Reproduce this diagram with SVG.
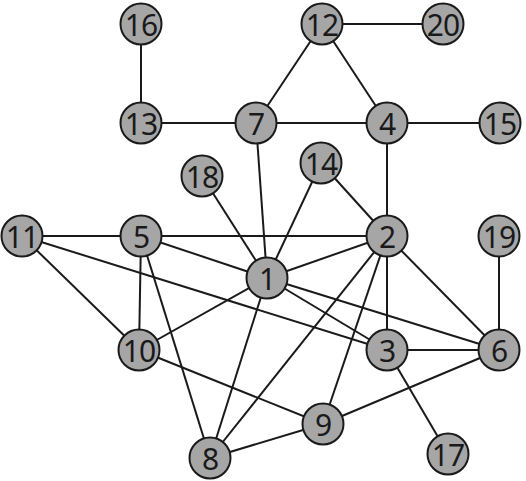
<svg xmlns="http://www.w3.org/2000/svg" width="526" height="481" viewBox="0 0 526 481">
<style>
.e line{stroke:#1a1a1a;stroke-width:2}
.n circle{fill:#a6a6a6;stroke:#1a1a1a;stroke-width:2}
.n text{font-family:"Noto Sans","DejaVu Sans",sans-serif;font-size:30px;fill:#1a1a1a;text-anchor:middle;dominant-baseline:central;letter-spacing:-1px}
</style>
<rect width="526" height="481" fill="#ffffff"/>
<g id="edges" class="e">
<line x1="141" y1="24" x2="141" y2="123"/>
<line x1="322" y1="24" x2="443" y2="24"/>
<line x1="322" y1="24" x2="256" y2="123"/>
<line x1="322" y1="24" x2="387" y2="123"/>
<line x1="141" y1="123" x2="256" y2="123"/>
<line x1="256" y1="123" x2="387" y2="123"/>
<line x1="387" y1="123" x2="500" y2="123"/>
<line x1="387" y1="123" x2="387" y2="236"/>
<line x1="256" y1="123" x2="267" y2="278"/>
<line x1="202" y1="176" x2="267" y2="278"/>
<line x1="321" y1="163" x2="267" y2="278"/>
<line x1="321" y1="163" x2="387" y2="236"/>
<line x1="22" y1="236" x2="141" y2="236"/>
<line x1="141" y1="236" x2="387" y2="236"/>
<line x1="22" y1="236" x2="139" y2="350"/>
<line x1="22" y1="236" x2="387" y2="350"/>
<line x1="141" y1="236" x2="267" y2="278"/>
<line x1="141" y1="236" x2="139" y2="350"/>
<line x1="141" y1="236" x2="210" y2="458"/>
<line x1="267" y1="278" x2="387" y2="236"/>
<line x1="267" y1="278" x2="139" y2="350"/>
<line x1="267" y1="278" x2="210" y2="458"/>
<line x1="267" y1="278" x2="387" y2="350"/>
<line x1="267" y1="278" x2="499" y2="350"/>
<line x1="387" y1="236" x2="387" y2="350"/>
<line x1="387" y1="236" x2="499" y2="350"/>
<line x1="387" y1="236" x2="210" y2="458"/>
<line x1="387" y1="236" x2="323" y2="424"/>
<line x1="499" y1="236" x2="499" y2="350"/>
<line x1="387" y1="350" x2="499" y2="350"/>
<line x1="387" y1="350" x2="448" y2="454"/>
<line x1="139" y1="350" x2="323" y2="424"/>
<line x1="323" y1="424" x2="210" y2="458"/>
<line x1="323" y1="424" x2="499" y2="350"/>
</g>
<g id="n16" class="n"><circle cx="141" cy="24" r="20.5"/><text x="141" y="24">16</text></g>
<g id="n12" class="n"><circle cx="322" cy="24" r="20.5"/><text x="322" y="24">12</text></g>
<g id="n20" class="n"><circle cx="443" cy="24" r="20.5"/><text x="443" y="24">20</text></g>
<g id="n13" class="n"><circle cx="141" cy="123" r="20.5"/><text x="141" y="123">13</text></g>
<g id="n7" class="n"><circle cx="256" cy="123" r="20.5"/><text x="256" y="123">7</text></g>
<g id="n4" class="n"><circle cx="387" cy="123" r="20.5"/><text x="387" y="123">4</text></g>
<g id="n15" class="n"><circle cx="500" cy="123" r="20.5"/><text x="500" y="123">15</text></g>
<g id="n18" class="n"><circle cx="202" cy="176" r="20.5"/><text x="202" y="176">18</text></g>
<g id="n14" class="n"><circle cx="321" cy="163" r="20.5"/><text x="321" y="163">14</text></g>
<g id="n11" class="n"><circle cx="22" cy="236" r="20.5"/><text x="22" y="236">11</text></g>
<g id="n5" class="n"><circle cx="141" cy="236" r="20.5"/><text x="141" y="236">5</text></g>
<g id="n2" class="n"><circle cx="387" cy="236" r="20.5"/><text x="387" y="236">2</text></g>
<g id="n19" class="n"><circle cx="499" cy="236" r="20.5"/><text x="499" y="236">19</text></g>
<g id="n1" class="n"><circle cx="267" cy="278" r="20.5"/><text x="267" y="278">1</text></g>
<g id="n10" class="n"><circle cx="139" cy="350" r="20.5"/><text x="139" y="350">10</text></g>
<g id="n3" class="n"><circle cx="387" cy="350" r="20.5"/><text x="387" y="350">3</text></g>
<g id="n6" class="n"><circle cx="499" cy="350" r="20.5"/><text x="499" y="350">6</text></g>
<g id="n9" class="n"><circle cx="323" cy="424" r="20.5"/><text x="323" y="424">9</text></g>
<g id="n8" class="n"><circle cx="210" cy="458" r="20.5"/><text x="210" y="458">8</text></g>
<g id="n17" class="n"><circle cx="448" cy="454" r="20.5"/><text x="448" y="454">17</text></g>
</svg>
